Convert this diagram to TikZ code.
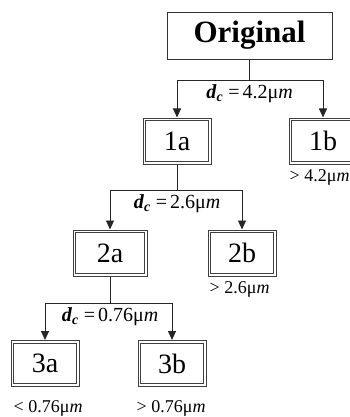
\documentclass[tikz,border=0pt]{standalone}
\usepackage{fontspec}
\setmainfont{Liberation Serif}
\usetikzlibrary{positioning,arrows.meta}

\begin{document}
\begin{tikzpicture}[x=1pt,y=-1pt,>={Triangle[length=9pt,width=8pt]},
    conn/.style={draw=black!85,line width=0.9pt},
    cls/.style={draw=black!75,line width=1pt,minimum width=68pt,minimum height=46pt,inner sep=0pt,
      font=\fontsize{28}{30}\selectfont,
      path picture={\draw[black!75,line width=1pt]
        ([shift={(2.6pt,-2.6pt)}]path picture bounding box.north west) rectangle
        ([shift={(-2.6pt,2.6pt)}]path picture bounding box.south east);}},
    lbl/.style={inner sep=1pt,font=\fontsize{20}{22}\selectfont},
    rng/.style={inner sep=1pt,font=\fontsize{18}{20}\selectfont}]
    \useasboundingbox (0,0) rectangle (350,417);
    \node[draw=black!80,line width=0.9pt,minimum width=165pt,minimum height=47pt,
      font=\fontsize{31}{33}\selectfont\bfseries] (orig) at (249.5,35.5) {Original};
    \node[cls] (c1a) at (177,141) {1a};
    \node[cls] (c1b) at (323,141) {1b};
    \node[cls,minimum width=74pt] (c2a) at (110,253) {2a};
    \node[cls] (c2b) at (242,253) {2b};
    \node[cls] (c3a) at (45,363.5) {3a};
    \node[cls] (c3b) at (172,363.5) {3b};
    % splits
    \draw[conn] (orig.south) -- ++(0,21) coordinate (b0);
    \draw[conn,->] (b0) -| (c1a.north);
    \draw[conn,->] (b0) -| (c1b.north);
    \draw[conn] (c1a.south) -- ++(0,26) coordinate (b1);
    \draw[conn,->] (b1) -| (c2a.north);
    \draw[conn,->] (b1) -| (c2b.north);
    \draw[conn] (c2a.south) -- ++(0,27) coordinate (b2);
    \draw[conn,->] (b2) -| (c3a.north);
    \draw[conn,->] (b2) -| (c3b.north);
    \node[lbl,below=3pt of b0] (d0) {\textbf{\textit{d}}\textsubscript{\textbf{\textit{c}}}\hspace{5pt}=\hspace{3pt}4.2μ\textit{m}};
    \node[lbl,below=3pt of b1] (d1) {\textbf{\textit{d}}\textsubscript{\textbf{\textit{c}}}\hspace{5pt}=\hspace{3pt}2.6μ\textit{m}};
    \node[lbl,below=3pt of b2] (d2) {\textbf{\textit{d}}\textsubscript{\textbf{\textit{c}}}\hspace{5pt}=\hspace{3pt}0.76μ\textit{m}};
    % size ranges
    \node[rng,below right=4pt and 0pt of c1b.south west] (r1b) {> 4.2μ\textit{m}};
    \node[rng,below right=4pt and 1pt of c2b.south west] (r2b) {> 2.6μ\textit{m}};
    \node[rng,below right=12pt and 2pt of c3a.south west] (r3a) {< 0.76μ\textit{m}};
    \node[rng,below right=12pt and -2pt of c3b.south west] (r3b) {> 0.76μ\textit{m}};
\end{tikzpicture}
\end{document}
